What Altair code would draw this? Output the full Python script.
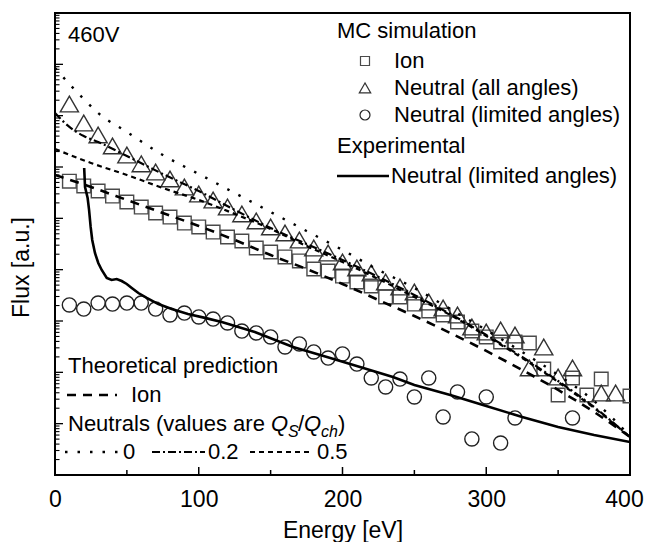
import altair as alt
import pandas as pd

FONT = "Liberation Sans"

# ---------------- data ----------------
# MC simulation, Ion (squares)
ion_E = [10, 20, 30, 40, 50, 60, 70, 80, 90, 100, 110, 120, 130, 140, 150, 160, 170, 180, 190, 200,
         210, 220, 230, 240, 250, 260, 270, 280, 290, 300, 310, 320, 330, 340, 350, 360, 370, 380, 400]
ion_flux = [5.3e5, 4.27e5, 3.41e5, 2.72e5, 2.08e5, 1.66e5, 1.27e5, 1.06e5, 8.1e4, 6.8e4,
            5.4e4, 4.33e4, 3.62e4, 2.64e4, 2.21e4, 1.77e4, 1.48e4, 1.03e4, 9.4e3, 7.5e3,
            5.75e3, 4.81e3, 2.94e3, 2.94e3, 2.14e3, 1.57e3, 1.31e3, 957, 638, 489,
            390, 390, 373, 116, 36.2, 77.6, 36.2, 74.1, 34.6]

# MC simulation, Neutral (all angles) (triangles)
nall_E = [10, 20, 30, 40, 50, 60, 70, 80, 90, 100, 110, 120, 130, 140, 150, 160, 170, 180, 190, 200,
          210, 220, 230, 240, 250, 260, 270, 280, 290, 300, 310, 320, 330, 340, 350, 360, 380, 390]
nall_flux = [1.69e7, 7.2e6, 4.21e6, 2.57e6, 1.71e6, 1.15e6, 8.0e5, 5.85e5, 4.08e5, 2.98e5,
             2.28e5, 1.66e5, 1.22e5, 8.9e4, 6.8e4, 5.19e4, 3.79e4, 2.64e4, 2.11e4, 1.41e4,
             1.08e4, 8.6e3, 5.75e3, 4.6e3, 3.67e3, 2.34e3, 1.79e3, 1.31e3, 764, 611,
             668, 534, 122, 312, 81.1, 122, 39.6, 39.6]

# MC simulation, Neutral (limited angles) (circles)
nlim_E = [10, 20, 30, 40, 50, 60, 70, 80, 90, 100, 110, 120, 130, 140, 150, 160, 170, 180, 190, 200,
          210, 220, 230, 240, 250, 260, 270, 280, 290, 300, 310, 320, 360]
nlim_flux = [2.05e3, 1.71e3, 2.24e3, 2.14e3, 2.24e3, 2.24e3, 1.71e3, 1.31e3, 1.43e3, 1.2e3,
             1.09e3, 915, 638, 584, 489, 312, 357, 249, 190, 228,
             145, 77.6, 51.8, 74.1, 33.1, 77.6, 13.5, 41.4, 5.03, 33.1,
             4.2, 12.9, 12.9]

# Experimental, Neutral (limited angles) (solid line)
exp_E = [20.3, 20.9, 22.7, 23.7, 24.8, 25.9, 27.8, 30.1, 32.5, 36, 39.4, 42.9, 46.4, 49.9, 53.4, 58,
         63.8, 71.9, 81.2, 92.5, 104.3, 116, 139, 165.6, 189.2, 212.2, 235.1, 250, 275, 300, 325,
         350, 375, 400]
exp_flux = [9.57e5, 4.08e5, 2.49e5, 1.46e5, 6.8e4, 3.79e4, 2.11e4, 1.35e4, 9.86e3, 6.89e3, 6.3e3,
            6.58e3, 6.01e3, 5.26e3, 4.4e3, 3.51e3, 2.81e3, 2.14e3, 1.71e3, 1.37e3, 1.15e3, 957,
            611, 312, 199, 127, 81.1, 56.7, 36.2, 22.1, 13.5, 8.61, 6.01, 4.4]

# Theoretical prediction, Ion (dashed)
thion_E = [0, 25, 50, 75, 100, 125, 150, 175, 200, 225, 250, 275, 300, 325, 350, 375, 400]
thion_flux = [7.0e5, 4.08e5, 2.28e5, 1.27e5, 7.1e4, 3.79e4, 1.93e4, 1.03e4, 5.26e3, 2.56e3,
              1.25e3, 584, 261, 111, 45.3, 16.9, 5.5]

# Theoretical prediction, Neutrals Qs/Qch = 0 (dotted)
th0_E = [0, 10, 20, 30, 50, 75, 100, 125, 150, 175, 200, 225, 250, 275, 300, 325, 350, 375, 400]
th0_flux = [8.5e7, 4.14e7, 2.11e7, 1.13e7, 4.81e6, 1.71e6, 7.31e5, 3.12e5, 1.33e5, 5.67e4,
            2.42e4, 9.86e3, 4.4e3, 1.71e3, 668, 249, 88.7, 27.7, 5.75]

# Qs/Qch = 0.2 (dash-dot)
th02_E = [0, 10, 20, 30, 50, 75, 100, 125, 150, 175, 200, 225, 250, 275, 300, 325, 350, 375, 400]
th02_flux = [1.13e7, 6.03e6, 4.02e6, 3.08e6, 1.64e6, 7.31e5, 3.41e5, 1.46e5, 6.49e4, 3.16e4,
             1.55e4, 7.2e3, 3.21e3, 1.37e3, 534, 199, 67.8, 21.1, 5.5]

# Qs/Qch = 0.5 (short dash)
th05_E = [0, 25, 50, 75, 100, 125, 150, 175, 200, 225, 250, 275, 300, 325, 350, 375, 400]
th05_flux = [2.24e6, 1.2e6, 7.0e5, 3.9e5, 2.28e5, 1.22e5, 6.2e4, 2.89e4, 1.41e4, 6.58e3,
             2.94e3, 1.31e3, 511, 190, 64.9, 20.2, 5.5]

# axis ticks
x_labels = [0, 100, 200, 300, 400]
x_major = [100, 200, 300]
x_minor = [50, 150, 250, 350]
y_major = [10.0 ** k for k in range(0, 10)]
y_minor = [m * 10.0 ** k for k in range(0, 9) for m in range(2, 10)]

# ---------------- chart ----------------
W, H = 575, 462
xs = alt.Scale(domain=[0, 400], nice=False, zero=False)
ys = alt.Scale(type="log", domain=[1, 1e9], nice=False)

x_axis = alt.Axis(values=x_labels, labelFont=FONT, labelFontSize=23, labelColor="black",
                  ticks=False, domain=False, grid=False, labelPadding=13, labelFlush=False,
                  labelOffset={"condition": {"test": "datum.value == 400", "value": -6}, "value": 0},
                  title="Energy [eV]", titleFont=FONT, titleFontSize=23, titleFontWeight="normal",
                  titleColor="black", titleY=62, titleBaseline="alphabetic")
y_axis = alt.Axis(labels=False, ticks=False, domain=False, grid=False,
                  title="Flux [a.u.]", titleFont=FONT, titleFontSize=23, titleFontWeight="normal",
                  titleColor="black", titleX=-27, titleY=254, titleBaseline="alphabetic",
                  titleAlign="center")


def X(field):
    return alt.X(field, scale=xs, axis=x_axis)


def Y(field):
    return alt.Y(field, scale=ys, axis=y_axis)


def df(E, F):
    return pd.DataFrame({"E": E, "F": F})


def pts(E, F, shape, size, color):
    return alt.Chart(df(E, F)).mark_point(shape=shape, size=size, filled=False, color=color,
                                          strokeWidth=1.4, opacity=1, clip=True).encode(
        x=X("E:Q"), y=Y("F:Q"))


def line(E, F, dash=None, width=2.2, interp="monotone"):
    kw = dict(color="black", strokeWidth=width, interpolate=interp, clip=True)
    if dash:
        kw["strokeDash"] = dash
    return alt.Chart(df(E, F)).mark_line(**kw).encode(x=X("E:Q"), y=Y("F:Q"), order="E:Q")


DOT = [2.5, 10]
DASHDOT = [8, 3, 2, 3]
SHORT = [5, 4]
LONG = [9, 7]

layers = []
layers.append(pts(ion_E, ion_flux, "square", 185, "#4a4a4a"))
layers.append(pts(nall_E, nall_flux, "triangle-up", 330, "#333333"))
layers.append(pts(nlim_E, nlim_flux, "circle", 200, "#222222"))
layers.append(line(exp_E, exp_flux, width=2.6, interp="linear"))
layers.append(line(thion_E, thion_flux, LONG, 2.6))
layers.append(line(th0_E, th0_flux, DOT, 2.4))
layers.append(line(th02_E, th02_flux, DASHDOT, 2.2))
layers.append(line(th05_E, th05_flux, SHORT, 2.2))

# inward ticks
layers.append(alt.Chart(pd.DataFrame({"v": y_major})).mark_rule(color="black", strokeWidth=1.3).encode(
    y=Y("v:Q"), x=alt.value(0), x2=alt.value(8)))
layers.append(alt.Chart(pd.DataFrame({"v": y_minor})).mark_rule(color="black", strokeWidth=1.1).encode(
    y=Y("v:Q"), x=alt.value(0), x2=alt.value(4.5)))
layers.append(alt.Chart(pd.DataFrame({"v": x_major})).mark_rule(color="black", strokeWidth=1.5).encode(
    x=X("v:Q"), y=alt.value(H), y2=alt.value(H - 8)))
layers.append(alt.Chart(pd.DataFrame({"v": x_minor})).mark_rule(color="black", strokeWidth=1.5).encode(
    x=X("v:Q"), y=alt.value(H), y2=alt.value(H - 5)))

one = pd.DataFrame({"k": [0]})


def txt(s, x, y, size=22, italic=False):
    return alt.Chart(one).mark_text(text=s, align="left", baseline="alphabetic", font=FONT,
                                    fontSize=size, fontStyle="italic" if italic else "normal",
                                    color="black").encode(x=alt.value(x), y=alt.value(y))


def sym(shape, size, x, y, color):
    return alt.Chart(one).mark_point(shape=shape, size=size, filled=False, color=color,
                                     strokeWidth=1.2, opacity=1).encode(x=alt.value(x), y=alt.value(y))


def seg(x1, x2, y, dash=None, width=2.2):
    kw = dict(color="black", strokeWidth=width)
    if dash:
        kw["strokeDash"] = dash
    return alt.Chart(one).mark_rule(**kw).encode(x=alt.value(x1), x2=alt.value(x2), y=alt.value(y))


# annotation / legends
layers += [
    txt("460V", 13, 29),
    txt("MC simulation", 282, 25),
    sym("square", 81, 310, 48, "#4a4a4a"), txt("Ion", 339, 55),
    sym("triangle-up", 130, 310, 75, "#333333"), txt("Neutral (all angles)", 339, 82),
    sym("circle", 100, 310, 102, "#222222"), txt("Neutral (limited angles)", 339, 109),
    txt("Experimental", 282, 140),
    seg(282, 334, 163, None, 2.4), txt("Neutral (limited angles)", 336, 170),
    txt("Theoretical prediction", 13, 360),
    seg(12, 62, 382, LONG, 2.6), txt("Ion", 76, 389),
    txt("Neutrals (values are ", 13, 418),
    txt("Q", 216, 418, italic=True),
    txt("S", 233, 424, size=16, italic=True),
    txt("/", 243, 418),
    txt("Q", 249, 418, italic=True),
    txt("ch", 266, 424, size=16, italic=True),
    txt(")", 283, 418),
    seg(10, 66, 439, DOT, 2.4), txt("0", 68, 446),
    seg(97, 150, 439, DASHDOT, 2.2), txt("0.2", 153, 446),
    seg(195, 258, 439, SHORT, 2.2), txt("0.5", 262, 446),
]

chart = alt.layer(*layers).properties(
    width=W, height=H,
    background="white",
    autosize=alt.AutoSizeParams(type="none"),
    padding={"left": 47, "top": 5, "right": 14, "bottom": 67},
).configure_view(stroke="black", strokeWidth=2)

chart.save("out.html", embed_options={"renderer": "svg", "actions": False})
